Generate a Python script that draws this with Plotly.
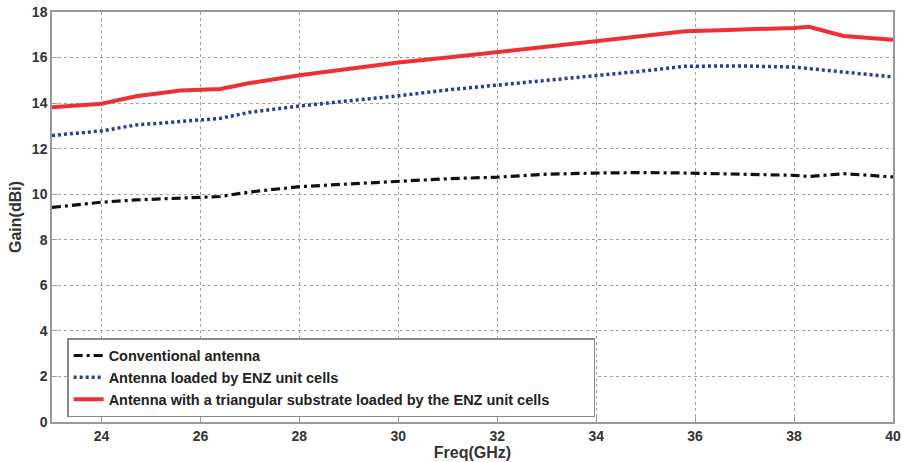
import plotly.graph_objects as go

freq = [23, 24, 24.7, 25.6, 26.4, 27, 28, 29, 30, 31, 32, 33, 34, 35, 35.8, 36.5, 37, 38, 38.3, 39, 40]
gain_triangular = [13.82, 13.97, 14.3, 14.55, 14.62, 14.88, 15.22, 15.5, 15.78, 16.0, 16.24, 16.5, 16.75,
                   16.95, 17.15, 17.2, 17.22, 17.3, 17.35, 16.95, 16.78]
gain_enz = [12.58, 12.78, 13.04, 13.2, 13.33, 13.6, 13.87, 14.1, 14.32, 14.58, 14.79, 15.0, 15.2,
            15.42, 15.62, 15.63, 15.63, 15.58, 15.52, 15.38, 15.15]
gain_conv = [9.42, 9.65, 9.75, 9.82, 9.9, 10.1, 10.33, 10.45, 10.57, 10.68, 10.75, 10.88, 10.93,
             10.95, 10.93, 10.9, 10.88, 10.83, 10.78, 10.9, 10.76]

names = ["Conventional antenna",
         "Antenna loaded by ENZ unit cells",
         "Antenna with a triangular substrate loaded by the ENZ unit cells"]

xticks = [24, 26, 28, 30, 32, 34, 36, 38, 40]
yticks = [0, 2, 4, 6, 8, 10, 12, 14, 16, 18]

fig = go.Figure()
fig.add_trace(go.Scatter(x=freq, y=gain_conv, mode="lines", name=names[0],
                         line=dict(color="#111111", width=3.2, dash="9px,4px,3px,4px")))
fig.add_trace(go.Scatter(x=freq, y=gain_enz, mode="lines", name=names[1],
                         line=dict(color="#2b3a9c", width=3.5, dash="3px,3px")))
fig.add_trace(go.Scatter(x=freq, y=gain_triangular, mode="lines", name=names[2],
                         line=dict(color="#ee3035", width=4)))

axis_common = dict(showline=True, mirror=True, linecolor="#9a9a9a", linewidth=1.5,
                   showgrid=True, gridcolor="#a0a0a0", griddash="dot", gridwidth=1,
                   ticks="inside", ticklen=5, tickcolor="#9a9a9a", zeroline=False,
                   automargin=False,
                   tickfont=dict(family="Liberation Sans, Arial", size=14, color="#333333", weight="bold"))

fig.update_xaxes(range=[23, 40], tickvals=xticks, ticktext=[str(v) for v in xticks],
                 title=dict(text="Freq(GHz)", standoff=4,
                            font=dict(family="Liberation Sans, Arial", size=16, color="#333333", weight="bold")),
                 **axis_common)
fig.update_yaxes(range=[0, 18], tickvals=yticks, ticktext=[str(v) for v in yticks],
                 title=dict(text="Gain(dBi)", standoff=6,
                            font=dict(family="Liberation Sans, Arial", size=16, color="#333333", weight="bold")),
                 **axis_common)

fig.update_layout(
    width=902, height=462,
    margin=dict(l=52, r=9, t=12, b=40),
    paper_bgcolor="white", plot_bgcolor="white",
    showlegend=True,
    legend=dict(x=0.018, y=0.012, xanchor="left", yanchor="bottom", orientation="h",
                bgcolor="white", bordercolor="#8a8a8a", borderwidth=1.5,
                font=dict(family="Liberation Sans, Arial", size=14.5, color="#222222", weight="bold"),
                tracegroupgap=0, itemwidth=30, entrywidth=480, entrywidthmode="pixels"),
)

fig.write_html("out.html")
